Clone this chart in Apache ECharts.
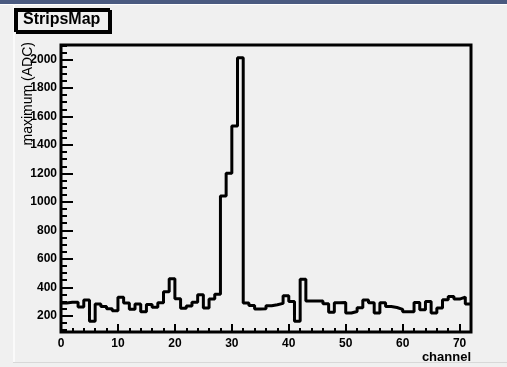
<!DOCTYPE html>
<html>
<head>
<meta charset="utf-8">
<script src="https://cdn.jsdelivr.net/npm/echarts@6/dist/echarts.min.js"></script>
<style>
  html, body { margin: 0; padding: 0; background: #f0f0f0; }
  #chart { width: 507px; height: 367px; }
</style>
</head>
<body>
<div id="chart"></div>
<script>
// Maximum ADC value per strip channel (one bin per channel, 0..71)
const channelValues = [
  290, 295, 295, 262, 310, 162, 282, 265, 250, 235,
  330, 290, 245, 282, 228, 280, 260, 292, 368, 460,
  320, 252, 268, 295, 348, 255, 318, 352, 1042, 1201,
  1533, 2012, 289, 272, 247, 250, 270, 277, 287, 340,
  301, 162, 457, 303, 303, 303, 285, 224, 292, 294,
  219, 230, 256, 310, 292, 219, 292, 265, 258, 245,
  228, 228, 294, 242, 301, 219, 254, 312, 336, 317,
  331, 282
];
const xRange = [0, 72];
const yRange = [86, 2102];
const xLabels = [0, 10, 20, 30, 40, 50, 60, 70];
const xMinor = [2, 4, 6, 8, 12, 14, 16, 18, 22, 24, 26, 28, 32, 34, 36, 38, 42, 44, 46, 48,
                52, 54, 56, 58, 62, 64, 66, 68];
const yLabels = [200, 400, 600, 800, 1000, 1200, 1400, 1600, 1800, 2000];
const yMinor = [100, 150, 250, 300, 350, 450, 500, 550, 650, 700, 750, 850, 900, 950,
                1050, 1100, 1150, 1250, 1300, 1350, 1450, 1500, 1550, 1650, 1700, 1750,
                1850, 1900, 1950, 2050, 2100];

// histogram as a step line: each bin drawn from its low edge to the next
const histData = channelValues.map((v, i) => [i, v]);
histData.push([channelValues.length, channelValues[channelValues.length - 1]]);

const FONT = 'Liberation Sans, Arial, sans-serif';
const labelFont = { color: '#000', fontFamily: FONT, fontWeight: 'bold', fontSize: 12, formatter: v => String(v) };

const chart = echarts.init(document.getElementById('chart'), null, { renderer: 'canvas' });
chart.setOption({
  animation: false,
  backgroundColor: '#f0f0f0',
  title: {
    text: 'StripsMap',
    left: 15, top: 9,
    padding: [2, 9, 2, 8],
    backgroundColor: '#f0f0f0',
    borderColor: '#000', borderWidth: 2,
    shadowColor: '#000', shadowBlur: 0, shadowOffsetX: 2, shadowOffsetY: 2,
    textStyle: { color: '#000', fontFamily: FONT, fontWeight: 'bold', fontSize: 16, lineHeight: 18 }
  },
  grid: {
    left: 61, right: 36, top: 45, bottom: 35,
    show: true, borderColor: '#000', borderWidth: 3, backgroundColor: 'transparent'
  },
  xAxis: [{
    type: 'value', min: xRange[0], max: xRange[1],
    axisLine: { show: false }, splitLine: { show: false },
    axisTick: { inside: true, length: 8, lineStyle: { color: '#000', width: 2 }, customValues: xLabels },
    axisLabel: { margin: 6, customValues: xLabels, ...labelFont },
    name: 'channel', nameLocation: 'end', nameGap: 0,
    nameTextStyle: { color: '#000', fontFamily: FONT, fontWeight: 'bold', fontSize: 13,
      align: 'right', verticalAlign: 'top', padding: [19, 0, 0, 0] }
  }, {
    type: 'value', min: xRange[0], max: xRange[1], position: 'bottom',
    axisLine: { show: false }, splitLine: { show: false }, axisLabel: { show: false },
    axisTick: { inside: true, length: 4, lineStyle: { color: '#000', width: 2 }, customValues: xMinor }
  }],
  yAxis: [{
    type: 'value', min: yRange[0], max: yRange[1], position: 'left',
    axisLine: { show: false }, splitLine: { show: false },
    axisTick: { inside: true, length: 12, lineStyle: { color: '#000', width: 2 }, customValues: yLabels },
    axisLabel: { margin: 4, customValues: yLabels, ...labelFont }
  }, {
    type: 'value', min: yRange[0], max: yRange[1], position: 'left',
    axisLine: { show: false }, splitLine: { show: false }, axisLabel: { show: false },
    axisTick: { inside: true, length: 6, lineStyle: { color: '#000', width: 2 }, customValues: yMinor }
  }],
  graphic: [
    // window chrome: dark top strip, light left edge and bottom line
    { type: 'rect', left: 0, top: 0, shape: { width: 507, height: 4 }, style: { fill: '#4a5a80' }, silent: true },
    { type: 'rect', left: 0, top: 4, shape: { width: 507, height: 1 }, style: { fill: '#ffffff' }, silent: true },
    { type: 'rect', left: 13, top: 4, shape: { width: 2, height: 359 }, style: { fill: '#fafafa' }, silent: true },
    { type: 'rect', left: 13, top: 362, shape: { width: 494, height: 1 }, style: { fill: '#d8d8d8' }, silent: true },
    {
      type: 'text', x: 28, y: 42, rotation: Math.PI / 2, silent: true, z: 100,
      style: { text: 'maximum (ADC)', fill: '#000', align: 'right', verticalAlign: 'middle',
               font: '14px "Liberation Sans", Arial, sans-serif' }
    }
  ],
  series: [{
    type: 'line', step: 'end', xAxisIndex: 0, yAxisIndex: 0,
    data: histData, symbol: 'none', clip: true,
    lineStyle: { color: '#000', width: 3 }
  }]
});
</script>
</body>
</html>
